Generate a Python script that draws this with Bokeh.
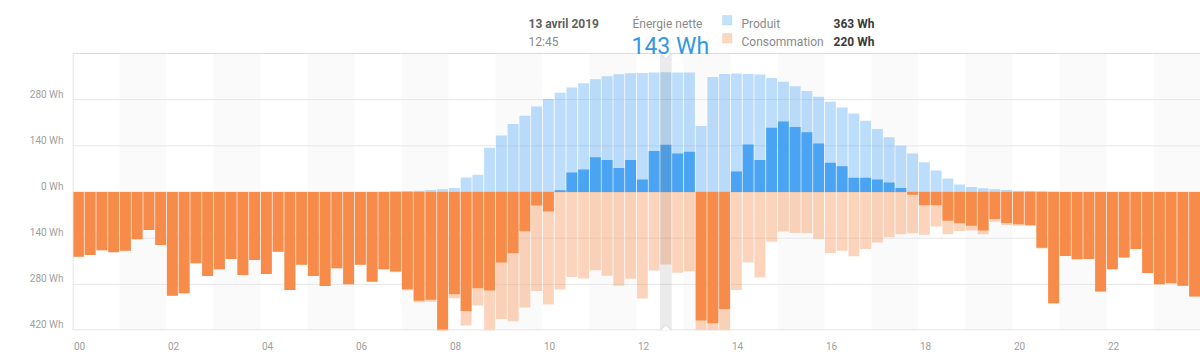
from bokeh.plotting import figure
from bokeh.models import (Range1d, FixedTicker, Label, BoxAnnotation, ColumnDataSource,
                          LinearAxis, Grid)
from bokeh.embed import file_html
from bokeh.resources import INLINE

# ---------------- data (Wh per 15-minute slot, 13 avril 2019) ----------------
production = [0] * 26 + [
    1, 2, 3, 4, 6, 8, 12, 44, 52, 134, 171, 206, 231, 259, 282, 301,
    317, 330, 342, 351, 357, 360, 361, 362, 363, 362, 362, 200, 349, 358, 359, 358,
    356, 346, 334, 321, 306, 289, 274, 256, 238, 216, 191, 166, 140, 117, 90, 65,
    41, 23, 15, 11, 8, 6, 4, 3, 2, 1] + [0] * 12

consumption = [
    196, 191, 177, 183, 178, 143, 115, 161, 315, 307, 216, 255, 234, 203, 252, 206,
    249, 181, 297, 221, 255, 285, 231, 280, 221, 272, 235, 243, 298, 334, 333, 440,
    322, 405, 344, 433, 385, 392, 350, 300, 341, 296, 258, 262, 237, 254, 284, 263,
    323, 238, 220, 245, 240, 590, 747, 713, 297, 214, 259, 151, 120, 124, 125, 142,
    185, 178, 195, 173, 153, 137, 128, 125, 130, 105, 128, 118, 117, 128, 90, 100,
    102, 103, 171, 338, 194, 204, 203, 302, 234, 199, 173, 246, 280, 277, 284, 317]

hour_ticks = [0, 2, 4, 6, 8, 10, 12, 14, 16, 18, 20, 22]
hour_labels = ["00", "02", "04", "06", "08", "10", "12", "14", "16", "18", "20", "22"]
y_ticks = [-420, -280, -140, 0, 140, 280]
y_labels = ["420 Wh", "280 Wh", "140 Wh", "0 Wh", "140 Wh", "280 Wh"]
shaded_hours = [1, 3, 5, 7, 9, 11, 13, 15, 17, 19, 21, 23]
selected_slot = 50

date_text = "13 avril 2019"
time_text = "12:45"
net_title = "Énergie nette"
net_text = "143 Wh"
legend_names = ["Produit", "Consommation"]
legend_values = ["363 Wh", "220 Wh"]

# ---------------- styling / layout ----------------
BLUE = "#4aa3f3"
ORANGE = "#f68b4a"
LIGHT_ALPHA = 0.37
FONT = "Roboto"
SLOT = 0.25
Y_MIN, Y_MAX = -420, 420          # visible chart area
PX_PER_WH = 0.3298
ZERO_PY = 191.5                   # page y of the 0 Wh line
TOP_EXTRA = ZERO_PY / PX_PER_WH    # frame extends to the top of the page (header area)
BORDER = "#dcdcdc"

slot_x = [(i + 0.5) * SLOT for i in range(len(production))]
net_pos = [max(p - c, 0) for p, c in zip(production, consumption)]
net_neg = [-max(c - p, 0) for p, c in zip(production, consumption)]
neg_cons = [-c for c in consumption]

src = ColumnDataSource(dict(x=slot_x, prod=production, cons=neg_cons,
                            npos=net_pos, nneg=net_neg))

p = figure(width=1200, height=360, x_range=Range1d(0, 24),
           y_range=Range1d(Y_MIN, TOP_EXTRA),
           output_backend="svg", toolbar_location=None,
           x_axis_location=None, y_axis_location=None,
           min_border_left=72, min_border_right=0, min_border_top=0, min_border_bottom=30,
           outline_line_color=None, background_fill_color="white",
           border_fill_color="white")
p.grid.visible = False

# alternate hour bands
p.quad(left=shaded_hours, right=[h + 1 for h in shaded_hours], bottom=Y_MIN, top=Y_MAX,
       fill_color="black", fill_alpha=0.02, line_color=None, level="underlay")

# horizontal grid lines (only inside the chart area)
p.segment(x0=0, x1=24, y0=y_ticks[1:], y1=y_ticks[1:], line_color="#e6e6e6",
          line_width=1, level="underlay")

W = SLOT * 0.93
p.vbar(x="x", top="prod", bottom=0, width=W, source=src,
       fill_color=BLUE, fill_alpha=LIGHT_ALPHA, line_color=None)
p.vbar(x="x", top=0, bottom="cons", width=W, source=src,
       fill_color=ORANGE, fill_alpha=LIGHT_ALPHA, line_color=None)
p.vbar(x="x", top="npos", bottom=0, width=W, source=src,
       fill_color=BLUE, line_color=None)
p.vbar(x="x", top=0, bottom="nneg", width=W, source=src,
       fill_color=ORANGE, line_color=None)

# cover anything above the chart area (clipped bars) with white
p.quad(left=0, right=24, bottom=Y_MAX, top=TOP_EXTRA, fill_color="white", line_color=None)

# chart border (top, left, bottom)
half = 0.5 / PX_PER_WH
p.segment(x0=[0, 0.011, 0], x1=[24, 0.011, 24],
          y0=[Y_MAX, Y_MIN, Y_MIN + half], y1=[Y_MAX, Y_MAX, Y_MIN + half],
          line_color=BORDER, line_width=1)

# selected slot highlight + tooltip notches
sel_x = slot_x[selected_slot]
p.vbar(x=[sel_x], top=Y_MAX, bottom=Y_MIN, width=SLOT, fill_color="#777777",
       fill_alpha=0.15, line_color=None)
nw = 5 / 47.0
nd = 6 / PX_PER_WH
p.patch(x=[sel_x - nw, sel_x, sel_x + nw], y=[Y_MAX, Y_MAX - nd, Y_MAX],
        fill_color="white", line_color=None)
p.line(x=[sel_x - nw, sel_x, sel_x + nw], y=[Y_MAX, Y_MAX - nd, Y_MAX],
       line_color=BORDER, line_width=1)
p.patch(x=[sel_x - nw, sel_x, sel_x + nw], y=[Y_MIN, Y_MIN + nd, Y_MIN],
        fill_color="white", line_color=None)
p.line(x=[sel_x - nw, sel_x, sel_x + nw], y=[Y_MIN + half, Y_MIN + nd, Y_MIN + half],
       line_color=BORDER, line_width=1)

# axes (label ranges shifted so labels sit like the original)
p.extra_x_ranges = {"xlab": Range1d(-0.149, 24 - 0.149)}
p.extra_y_ranges = {"ylab": Range1d(Y_MIN - 16.7, TOP_EXTRA - 16.7)}

xa = LinearAxis(x_range_name="xlab", ticker=FixedTicker(ticks=hour_ticks),
                major_label_overrides=dict(zip(hour_ticks, hour_labels)))
ya = LinearAxis(y_range_name="ylab", ticker=FixedTicker(ticks=y_ticks),
                major_label_overrides=dict(zip(y_ticks, y_labels)))
for ax, standoff in ((xa, 11), (ya, 9)):
    ax.axis_line_color = None
    ax.major_tick_line_color = None
    ax.minor_tick_line_color = None
    ax.major_tick_out = 0
    ax.major_tick_in = 0
    ax.major_label_standoff = standoff
    ax.major_label_text_font = FONT
    ax.major_label_text_font_size = "10px"
    ax.major_label_text_color = "#a0a0a0"
p.add_layout(xa, "below")
p.add_layout(ya, "left")

# ---------------- header (tooltip) ----------------
def hx(px):
    return (px - 72) / 47.0

def wy(py):
    return (ZERO_PY - py) / PX_PER_WH

def lab(text, px, py, size="12px", color="#8a8a8a", style="normal"):
    p.add_layout(Label(x=hx(px), y=wy(py), text=text, text_font=FONT,
                       text_font_size=size, text_color=color, text_font_style=style,
                       text_align="left", text_baseline="alphabetic"))

lab(date_text, 528, 23.3, color="#5f5f5f", style="bold")
lab(time_text, 528, 41.7)
lab(net_title, 632, 23.3)
lab(net_text, 631, 45.7, size="23px", color="#3497e4")
lab(legend_names[0], 741, 23.3)
lab(legend_names[1], 741, 41.7)
lab(legend_values[0], 833, 23.3, color="#3a3a3a", style="bold")
lab(legend_values[1], 833, 41.7, color="#3a3a3a", style="bold")

p.add_layout(BoxAnnotation(left=hx(722), right=hx(731.5), top=wy(15), bottom=wy(24.5),
                           fill_color="#c6e2fa", fill_alpha=1, line_color="#9ccbf2",
                           line_width=1))
p.add_layout(BoxAnnotation(left=hx(722), right=hx(731.5), top=wy(33), bottom=wy(42.5),
                           fill_color="#fcd7c2", fill_alpha=1, line_color="#f1b897",
                           line_width=1))

open("out.html", "w").write(file_html(p, INLINE))
